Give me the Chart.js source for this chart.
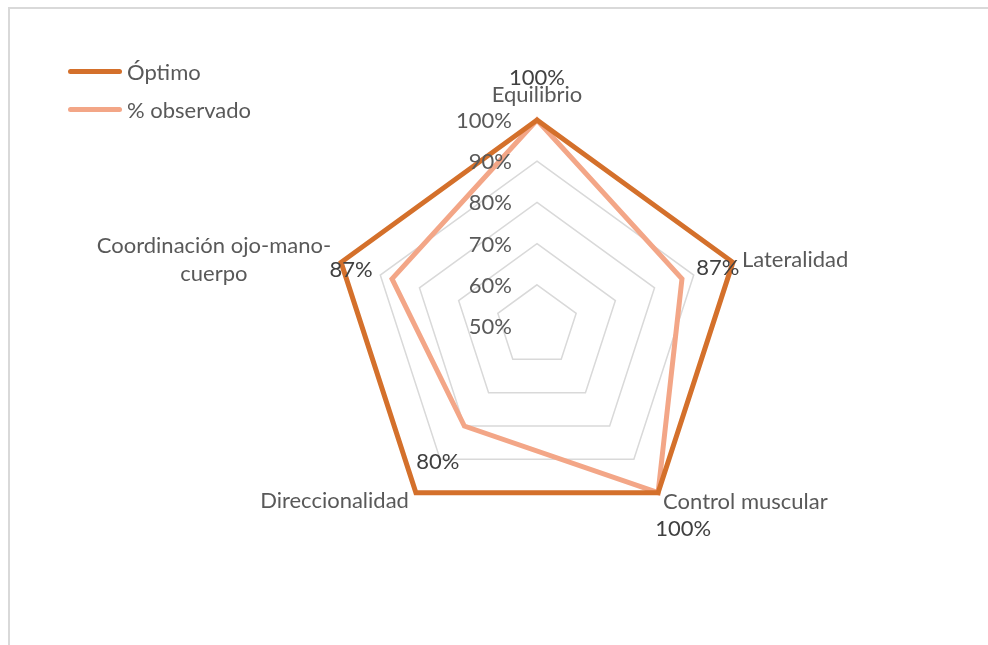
<!DOCTYPE html>
<html>
<head>
<meta charset="utf-8">
<script src="https://cdn.jsdelivr.net/npm/chart.js@4"></script>
<style>
  html, body { margin: 0; padding: 0; background: #fff; }
  body { width: 988px; height: 645px; position: relative; overflow: hidden; font-family: Lato, sans-serif; }
  #frame { position: absolute; left: 8px; top: 7px; width: 1000px; height: 700px; border-top: 2px solid #d9d9d9; border-left: 2px solid #d9d9d9; }
  #chart-wrap { position: absolute; left: 0; top: 0; width: 988px; height: 645px; }
  .legend { position: absolute; left: 68px; color: #595959; font-size: 22px; display: flex; align-items: center; }
  .legend .swatch { width: 54px; height: 5px; border-radius: 3px; margin-right: 5px; }
</style>
</head>
<body>
<div id="frame"></div>
<div id="chart-wrap"><canvas id="radar-chart" width="988" height="645"></canvas></div>
<div class="legend" style="top: 58px;"><span class="swatch" style="background:#d4702b"></span>Óptimo</div>
<div class="legend" style="top: 96px;"><span class="swatch" style="background:#f3a687"></span>% observado</div>

<script>
// chart data
const categories = ['Equilibrio', 'Lateralidad', 'Control muscular', 'Direccionalidad', ['Coordinación ojo-mano-', 'cuerpo']];
const optimo = [1.00, 1.00, 1.00, 1.00, 1.00];
const observado = [1.00, 0.87, 1.00, 0.80, 0.87];
const tickValues = [0.5, 0.6, 0.7, 0.8, 0.9, 1.0];

const textColor = '#595959';
const font = '22px Lato, sans-serif';

// tick labels drawn to the left of the vertical axis, like Excel
const tickLabelsPlugin = {
    id: 'tickLabels',
    afterDatasetsDraw(chart) {
        const scale = chart.scales.r;
        const ctx = chart.ctx;
        ctx.save();
        ctx.font = font;
        ctx.fillStyle = textColor;
        ctx.textAlign = 'right';
        ctx.textBaseline = 'middle';
        tickValues.forEach(v => {
            const d = scale.getDistanceFromCenterForValue(v);
            ctx.fillText(Math.round(v * 100) + '%', scale.xCenter - 25, scale.yCenter - d + 1);
        });
        ctx.restore();
    }
};

// category labels and data labels
const labelOffsets = [
    { align: 'center', dx: 0, dy: -25 },
    { align: 'left', dx: 9, dy: -2 },
    { align: 'left', dx: 5, dy: 9 },
    { align: 'right', dx: -7, dy: 8 },
    { align: 'right', dx: -10, dy: -2 }
];
const valueOffsets = [
    { dx: 0, dy: -42 },
    { dx: -15, dy: 6 },
    { dx: 25, dy: 36 },
    { dx: 22, dy: -31 },
    { dx: 10, dy: 8 }
];

const labelsPlugin = {
    id: 'radarLabels',
    afterDatasetsDraw(chart) {
        const scale = chart.scales.r;
        const ctx = chart.ctx;
        ctx.save();
        ctx.font = font;
        ctx.textBaseline = 'middle';
        categories.forEach((cat, i) => {
            const p = scale.getPointPositionForValue(i, optimo[i]);
            const o = labelOffsets[i];
            ctx.fillStyle = textColor;
            if (Array.isArray(cat)) {
                const w = Math.max(...cat.map(t => ctx.measureText(t).width));
                const cx = p.x + o.dx - w / 2;
                ctx.textAlign = 'center';
                cat.forEach((t, j) => ctx.fillText(t, cx, p.y + o.dy + (j - (cat.length - 1) / 2) * 28));
            } else {
                ctx.textAlign = o.align;
                ctx.fillText(cat, p.x + o.dx, p.y + o.dy);
            }
            const v = valueOffsets[i];
            ctx.fillStyle = '#404040';
            ctx.textAlign = 'center';
            ctx.fillText(Math.round(observado[i] * 100) + '%', p.x + v.dx, p.y + v.dy);
        });
        ctx.restore();
    }
};

const ctx = document.getElementById('radar-chart').getContext('2d');
new Chart(ctx, {
    type: 'radar',
    data: {
        labels: categories,
        datasets: [
            {
                label: 'Óptimo',
                data: optimo,
                borderColor: '#d4702b',
                borderWidth: 5,
                fill: false,
                pointRadius: 0,
                borderJoinStyle: 'miter'
            },
            {
                label: '% observado',
                data: observado,
                borderColor: '#f3a687',
                borderWidth: 5,
                fill: false,
                pointRadius: 0,
                borderJoinStyle: 'miter'
            }
        ]
    },
    options: {
        responsive: false,
        animation: false,
        layout: { padding: { top: 120, bottom: 113, left: 331, right: 245 } },
        plugins: { legend: { display: false }, tooltip: { enabled: false } },
        scales: {
            r: {
                min: 0.5,
                max: 1.0,
                ticks: { stepSize: 0.1, display: false },
                grid: { color: '#d9d9d9', lineWidth: 1.5 },
                angleLines: { display: false },
                pointLabels: { display: false }
            }
        }
    },
    plugins: [tickLabelsPlugin, labelsPlugin]
});
</script>
</body>
</html>
